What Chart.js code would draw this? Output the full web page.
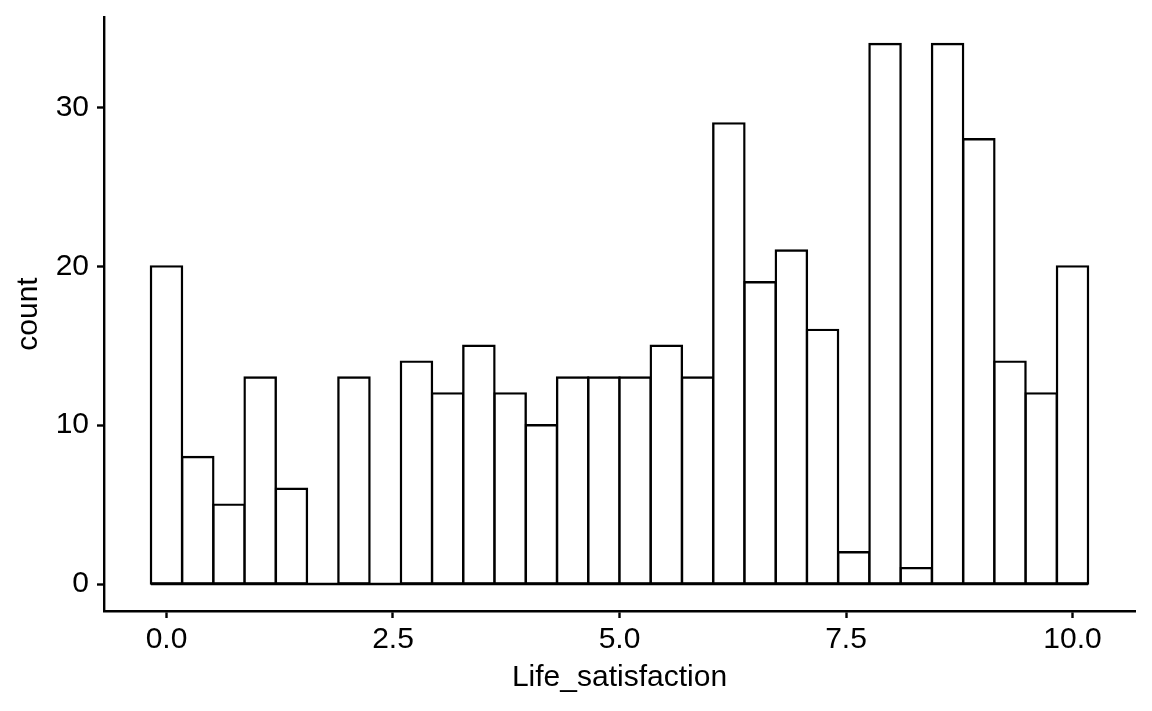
<!DOCTYPE html>
<html>
<head>
<meta charset="utf-8">
<script src="https://cdn.jsdelivr.net/npm/chart.js@4"></script>
<style>
  html, body { margin: 0; padding: 0; background: #ffffff; }
  canvas { display: block; }
</style>
</head>
<body>
<canvas id="c" width="1152" height="711"></canvas>
<script>
// ---- data ----
const binCenters = [0.000, 0.345, 0.690, 1.034, 1.379, 1.724, 2.069, 2.414, 2.759, 3.103,
                    3.448, 3.793, 4.138, 4.483, 4.828, 5.172, 5.517, 5.862, 6.207, 6.552,
                    6.897, 7.241, 7.586, 7.931, 8.276, 8.621, 8.966, 9.310, 9.655, 10.000];
const counts = [20, 8, 5, 13, 6, 0, 13, 0, 14, 12,
                15, 12, 10, 13, 13, 13, 15, 13, 29, 19,
                21, 16, 2, 34, 1, 34, 28, 14, 12, 20];
const xTickValues = [0, 2.5, 5, 7.5, 10];
const yTickValues = [0, 10, 20, 30];
const xTitle = 'Life_satisfaction';
const yTitle = 'count';

// derived values for scales
const binWidth = binCenters[1] - binCenters[0];
const xLo = binCenters[0] - binWidth / 2;
const xHi = binCenters[binCenters.length - 1] + binWidth / 2;
const xPad = (xHi - xLo) * 0.05;
const yMaxData = Math.max(...counts);
const yPad = yMaxData * 0.05;

const FONT = "'Liberation Sans', Arial, Helvetica, sans-serif";
const LW = 2.4;

const ctx = document.getElementById('c').getContext('2d');
new Chart(ctx, {
  type: 'bar',
  data: {
    datasets: [
      {
        type: 'line',
        order: 0,
        data: [{x: xLo, y: 0}, {x: xHi, y: 0}],
        borderColor: '#000000',
        borderWidth: LW,
        pointRadius: 0,
        fill: false
      },
      {
        type: 'bar',
        order: 1,
        data: binCenters.map((c, i) => ({x: c, y: counts[i]})),
        backgroundColor: '#ffffff',
        borderColor: '#000000',
        borderWidth: LW,
        borderSkipped: false,
        inflateAmount: LW / 2,
        barPercentage: 1,
        categoryPercentage: 1
      }
    ]
  },
  options: {
    responsive: false,
    animation: false,
    devicePixelRatio: 1,
    layout: { padding: { top: 17, right: 17, left: 0, bottom: 0 } },
    plugins: { legend: { display: false }, tooltip: { enabled: false } },
    scales: {
      x: {
        type: 'linear',
        offset: false,
        min: xLo - xPad,
        max: xHi + xPad,
        afterBuildTicks: s => { s.ticks = xTickValues.map(v => ({ value: v })); },
        afterFit: s => { s.height = 100; s.paddingLeft = 0; s.paddingRight = 0; },
        grid: { display: true, drawOnChartArea: false, drawTicks: true, tickLength: 7,
                tickWidth: LW, tickColor: '#000000', offset: false },
        border: { display: true, color: '#000000', width: LW },
        ticks: {
          color: '#000000', padding: 4, maxRotation: 0,
          font: { family: FONT, size: 30 },
          callback: v => Number(v).toFixed(1)
        },
        title: {
          display: true, text: xTitle, color: '#000000',
          font: { family: FONT, size: 30 },
          padding: { top: 0, bottom: 15 }
        }
      },
      y: {
        type: 'linear',
        min: -yPad,
        max: yMaxData + yPad,
        afterBuildTicks: s => { s.ticks = yTickValues.map(v => ({ value: v })); },
        afterFit: s => { s.width = 104; s.paddingTop = 0; s.paddingBottom = 0; },
        grid: { display: true, drawOnChartArea: false, drawTicks: true, tickLength: 7,
                tickWidth: LW, tickColor: '#000000' },
        border: { display: true, color: '#000000', width: LW },
        ticks: {
          color: '#000000', padding: 8,
          font: { family: FONT, size: 30 },
          callback: v => String(v)
        },
        title: {
          display: true, text: yTitle, color: '#000000',
          font: { family: FONT, size: 30 },
          padding: { top: 11, bottom: 0 }
        }
      }
    }
  }
});
</script>
</body>
</html>
